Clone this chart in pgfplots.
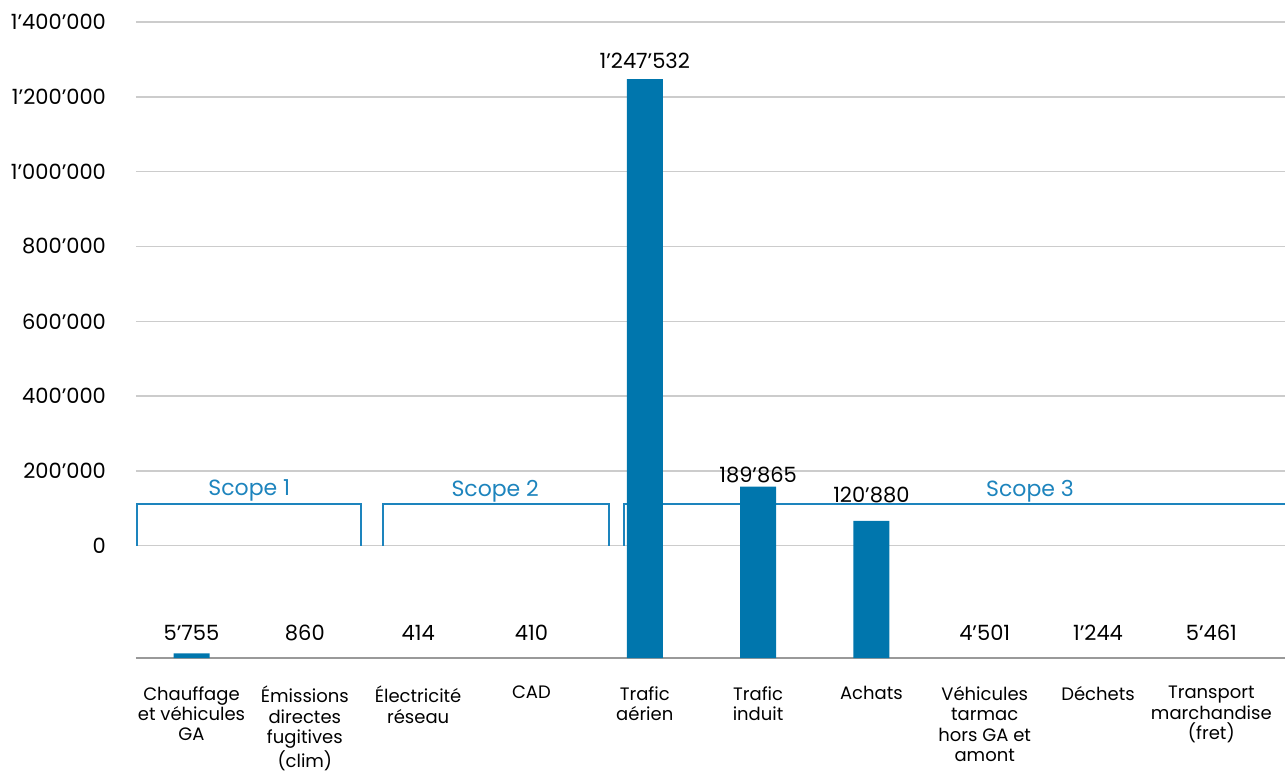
\documentclass[border=0pt]{standalone}
\usepackage{fontspec}
\setmainfont{Poppins}
\usepackage{pgfplots}
\usepackage{pgfplotstable}
\pgfplotsset{compat=1.18}
\definecolor{barblue}{HTML}{0076AD}
\definecolor{scopeblue}{HTML}{1D84BD}
\definecolor{gridgray}{HTML}{CCCCCC}
\definecolor{basegray}{HTML}{999999}

% bar heights as drawn (thousands, in the chart's y units)
\pgfplotstableread{
x y
0 -287.6
4 1247.532
5 158.3
6 66.8
}\bars

% value labels (thousands, label position)
\pgfplotstableread{
x y label
0 -232 5’755
1 -232 860
2 -232 414
3 -232 410
4 1295 1’247’532
5 189.6 189’865
6 136.2 120’880
7 -232 4’501
8 -232 1’244
9 -232 5’461
}\labels

\begin{document}
\begin{tikzpicture}[font=\fontsize{9}{11}\selectfont]
\path[use as bounding box] (-68pt,-57pt) rectangle (574.5pt,329pt);
\begin{axis}[
  at={(0,0)}, anchor=south west,
  scale only axis, width=574.5pt, height=318pt,
  xmin=-0.49, xmax=9.65, ymin=-300, ymax=1400,
  y coord trafo/.code={\pgfmathparse{#1+300}},
  y coord inv trafo/.code={\pgfmathparse{#1-300}},
  axis x line*=bottom, axis y line*=left,
  x axis line style={draw=basegray, line width=0.8pt},
  y axis line style={draw=none},
  major tick length=0pt,
  xtick={0,1,2,3,4,5,6,7,8,9},
  xticklabels={Chauffage\\et véhicules\\GA, Émissions\\directes\\fugitives\\(clim), Électricité\\réseau, CAD\\\phantom{x}, Trafic\\aérien, Trafic\\induit, Achats\\\phantom{x}, Véhicules\\tarmac\\hors GA et\\amont, Déchets\\\phantom{x}, Transport\\marchandise\\(fret)},
  xticklabel style={align=center, anchor=north, yshift=-10.6pt,
    execute at begin node={\rule{0pt}{9.5pt}},
    font=\fontsize{9}{10.2}\selectfont},
  ytick={0,200,400,600,800,1000,1200,1400},
  yticklabels={0,200’000,400’000,600’000,800’000,1’000’000,1’200’000,1’400’000},
  yticklabel style={anchor=east, xshift=-11.5pt, font=\fontsize{10.5}{12}\selectfont},
  ymajorgrids, grid style={draw=gridgray, line width=0.7pt},
  clip=false,
]
\draw[scopeblue, line width=1pt] (axis cs:-0.485,0) |- (axis cs:1.5,112) -- (axis cs:1.5,0);
\draw[scopeblue, line width=1pt] (axis cs:1.686,0) |- (axis cs:3.68,112) -- (axis cs:3.68,0);
\draw[scopeblue, line width=1pt] (axis cs:3.82,0) |- (axis cs:9.65,112);
\node[scopeblue, font=\fontsize{11}{13}\selectfont] at (axis cs:0.51,147) {Scope 1};
\node[scopeblue, font=\fontsize{11}{13}\selectfont] at (axis cs:2.68,147) {Scope 2};
\node[scopeblue, font=\fontsize{11}{13}\selectfont] at (axis cs:7.4,147) {Scope 3};
\addplot[ybar, bar width=18pt, fill=barblue, draw=none] table[x=x, y=y] {\bars};
\addplot[only marks, mark=none, nodes near coords, point meta=explicit symbolic,
  every node near coord/.append style={anchor=center, font=\fontsize{10.5}{12}\selectfont, text=black}]
  table[x=x, y=y, meta=label] {\labels};
\end{axis}
\end{tikzpicture}
\end{document}
